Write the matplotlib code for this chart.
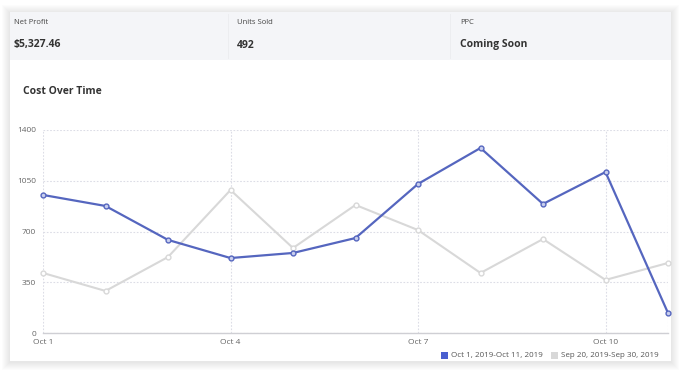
import matplotlib.pyplot as plt
from matplotlib.patches import Rectangle

days = ['Oct 1', 'Oct 2', 'Oct 3', 'Oct 4', 'Oct 5', 'Oct 6',
        'Oct 7', 'Oct 8', 'Oct 9', 'Oct 10', 'Oct 11']
current = [952, 876, 642, 517, 552, 655, 1028, 1276, 890, 1110, 138]
previous = [414, 290, 524, 986, 586, 883, 710, 414, 648, 366, 483]
y_ticks = [0, 350, 700, 1050, 1400]
x_tick_days = ['Oct 1', 'Oct 4', 'Oct 7', 'Oct 10']
legend_labels = ['Oct 1, 2019-Oct 11, 2019', 'Sep 20, 2019-Sep 30, 2019']
stats = [('Net Profit', '$5,327.46'), ('Units Sold', '492'), ('PPC', 'Coming Soon')]

W, H = 688, 372
plt.rcParams['font.family'] = ['Open Sans', 'DejaVu Sans']

fig = plt.figure(figsize=(W / 100, H / 100), dpi=100)
fig.patch.set_facecolor('white')


def px(x, y):
    # pixel coords (top-left origin) -> figure fraction
    return x / W, 1 - y / H


# soft card shadow + card
for d in range(8, 0, -1):
    fig.patches.append(Rectangle(((10 - d) / W, 1 - (362 + d) / H), (661 + 2 * d) / W,
                                 (350 + 2 * d - 1) / H, transform=fig.transFigure,
                                 facecolor='black', alpha=0.012, edgecolor='none', zorder=0))
fig.patches.append(Rectangle((10 / W, 1 - 361 / H), 661 / W, 349 / H, transform=fig.transFigure,
                             facecolor='white', edgecolor='none', zorder=1))
fig.patches.append(Rectangle((10 / W, 1 - 60 / H), 661 / W, 48 / H, transform=fig.transFigure,
                             facecolor='#f4f5f8', edgecolor='none', zorder=2))
for sx in [228, 450]:
    fig.add_artist(plt.Line2D([sx / W, sx / W], [1 - 58 / H, 1 - 14 / H], color='#ecedf0',
                              lw=0.7, zorder=3))

for (label, value), sx in zip(stats, [14, 237, 460]):
    fig.text(*px(sx, 22), label, fontsize=5.5, color='#444444', va='center', zorder=4)
    fig.text(*px(sx, 45), value, fontsize=7.5, fontweight='bold', color='#333333',
             va='center', zorder=4)

fig.text(*px(23, 91), 'Cost Over Time', fontsize=7.5, fontweight='bold', color='#333333',
         va='center', zorder=4)

ax = fig.add_axes([43 / W, 1 - 333 / H, 625 / W, 203 / H], zorder=5)
ax.patch.set_alpha(0)
x = list(range(len(days)))
ax.plot(x, previous, color='#d8d8d8', lw=1.5, marker='o', ms=3.5,
        mfc='white', mec='#d8d8d8', mew=1, zorder=3, clip_on=False)
ax.plot(x, current, color='#5566bf', lw=1.6, marker='o', ms=3.5,
        mfc='#c9cfee', mec='#5566bf', mew=1, zorder=4, clip_on=False)

ax.set_xlim(0, len(days) - 1)
ax.set_ylim(0, 1400)
ax.set_yticks(y_ticks)
ax.set_yticklabels([str(v) for v in y_ticks])
xt = [days.index(d) for d in x_tick_days] + [len(days) - 1]
ax.set_xticks(xt)
ax.set_xticklabels(x_tick_days + [''])
ax.tick_params(length=0, labelsize=6, colors='#666666')
ax.tick_params(axis='x', pad=4)
ax.tick_params(axis='y', pad=5)
ax.grid(True, color='#dcdde6', lw=0.8, ls=(0, (1.5, 1.5)))
for s in ['top', 'right', 'left']:
    ax.spines[s].set_visible(False)
ax.spines['bottom'].set_color('#cfcfd4')
ax.spines['bottom'].set_linewidth(1)

# legend
for (lab, col), lx in zip(zip(legend_labels, ['#4a5fd0', '#d8d8d8']), [441, 551]):
    fig.patches.append(Rectangle((lx / W, 1 - 359 / H), 7 / W, 7 / H, transform=fig.transFigure,
                                 facecolor=col, edgecolor='none', zorder=6))
    fig.text(*px(lx + 10, 355.5), lab, fontsize=5.8, color='#555555', va='center', zorder=6)

fig.savefig('out.png', dpi=100)
